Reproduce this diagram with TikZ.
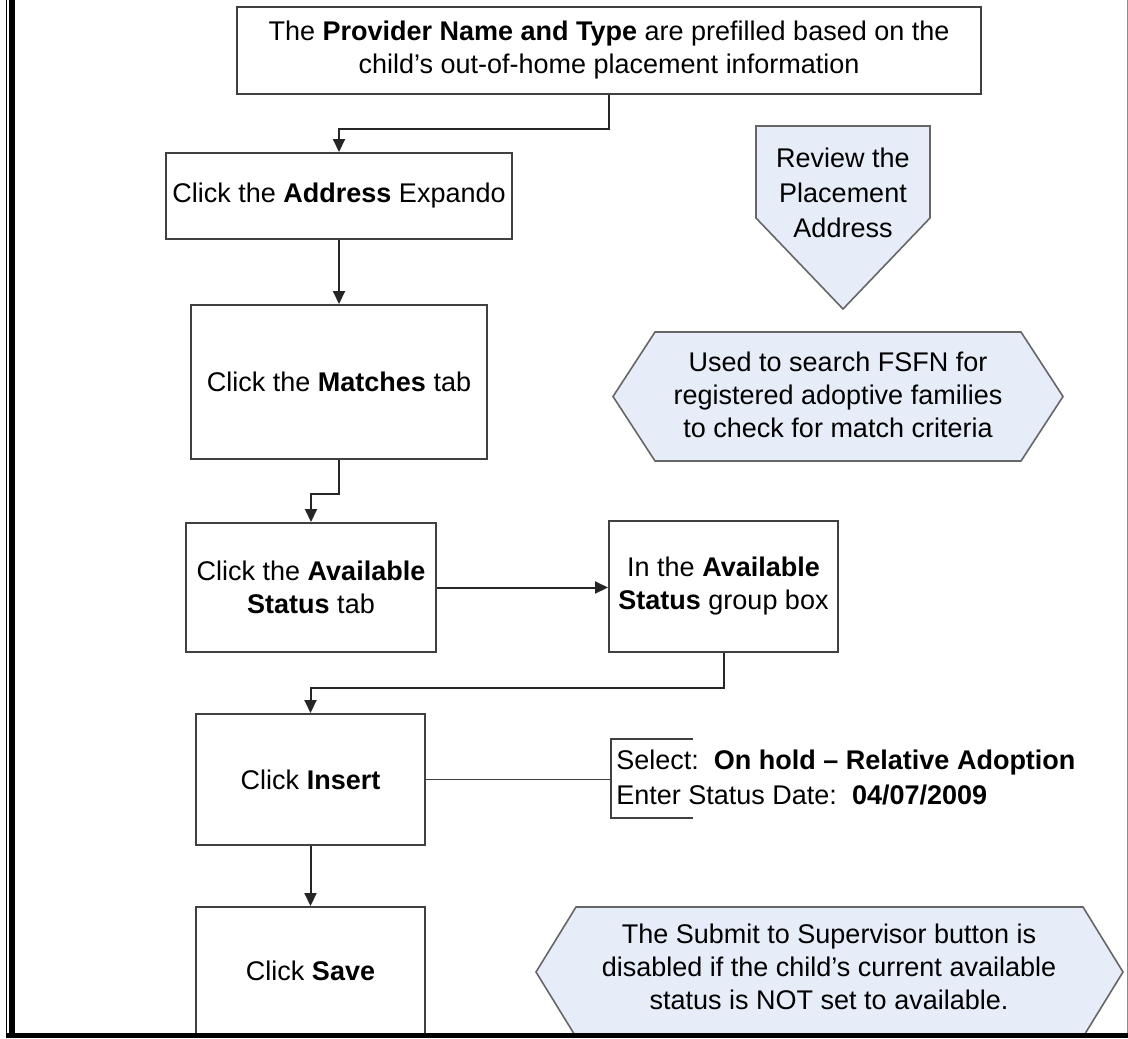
\documentclass[tikz,border=0pt]{standalone}
\usepackage{fontspec}
\setmainfont{Liberation Sans}
\usepackage{tikz}
\usetikzlibrary{arrows.meta, positioning}
\definecolor{notefill}{RGB}{230,236,248}

\begin{document}
\begin{tikzpicture}[x=0.5pt, y=-0.5pt, font=\fontsize{13.5}{16.5}\selectfont]
    \tikzstyle{stepbox}=[draw=black!75, line width=1pt, fill=white, align=center, inner sep=0pt];
    \tikzstyle{note}=[draw=black!60, line width=0.8pt, fill=notefill];
    \tikzstyle{flow}=[draw=black!85, line width=1pt, -{Triangle[length=6.5pt, width=6pt]}];
    \tikzstyle{link}=[draw=black!75, line width=0.8pt];

    \useasboundingbox (0,0) rectangle (1128,1038);
    \clip (0,0) rectangle (1128,1038);

    \node[stepbox, minimum width=372pt, minimum height=43.5pt] (provider) at (609,50.5) {The \textbf{Provider Name and Type} are prefilled based on the\\child's out-of-home placement information};
    \node[stepbox, minimum width=173pt, minimum height=43pt] (address) at (339,196) {Click the \textbf{Address} Expando};
    \node[stepbox, minimum width=148pt, minimum height=77pt] (matches) at (339,382) {Click the \textbf{Matches} tab};
    \node[stepbox, minimum width=125pt, minimum height=64.5pt] (avail) at (311,587.5) {Click the \textbf{Available}\\\textbf{Status} tab};
    \node[stepbox, minimum width=114.5pt, minimum height=65.5pt] (groupbox) at (723.5,586.5) {In the \textbf{Available}\\\textbf{Status} group box};
    \node[stepbox, minimum width=114.5pt, minimum height=65.5pt] (insert) at (310.5,779.5) {Click \textbf{Insert}};
    \node[stepbox, minimum width=114.5pt, minimum height=63.5pt] (save) at (310.5,970.5) {Click \textbf{Save}};

    \draw[flow] (provider.south) -- ++(0,34) -| (address.north);
    \draw[flow] (address.south) -- (matches.north);
    \draw[flow] (matches.south) -- ++(0,34) -| (avail.north);
    \draw[flow] (avail.east) -- (avail.east -| groupbox.west);
    \draw[flow] (groupbox.south) -- ++(0,35) -| (insert.north);
    \draw[flow] (insert.south) -- (save.north);

    \draw[note] (756,126) -- (930,126) -- (930,218) -- (843,309) -- (756,218) -- cycle;
    \node[align=center] (review) at (843,193) {Review the\\[1pt]Placement\\[1pt]Address};

    \draw[note] (613,396.5) -- (655,332) -- (1021,332) -- (1063,396.5) -- (1021,461) -- (655,461) -- cycle;
    \node[align=center] (search) at (838,395) {Used to search FSFN for\\registered adoptive families\\to check for match criteria};

    \draw[note] (536,972) -- (576,907) -- (1083,907) -- (1123,972) -- (1083,1037) -- (576,1037) -- cycle;
    \node[align=center] (submit) at (829,967) {The Submit to Supervisor button is\\disabled if the child's current available\\status is NOT set to available.};

    \coordinate (bracket) at (611,779.5);
    \draw[link] (insert.east) -- (bracket);
    \draw[link] (693,739) -- (611,739) -- (611,818) -- (693,818);
    \node[anchor=west, align=left, inner sep=0pt] (status) at (616,777) {Select:~~\textbf{On hold -- Relative Adoption}\\[1pt]Enter Status Date:~~\textbf{04/07/2009}};

    \draw[line width=0.6pt] (6.5,0) -- (6.5,1038);
    \fill (8.5,0) rectangle (15,1038);
    \fill (6,1032.5) rectangle (1128,1038);
    \draw[black!45, line width=0.5pt] (1127.5,0) -- (1127.5,1033);
\end{tikzpicture}
\end{document}
